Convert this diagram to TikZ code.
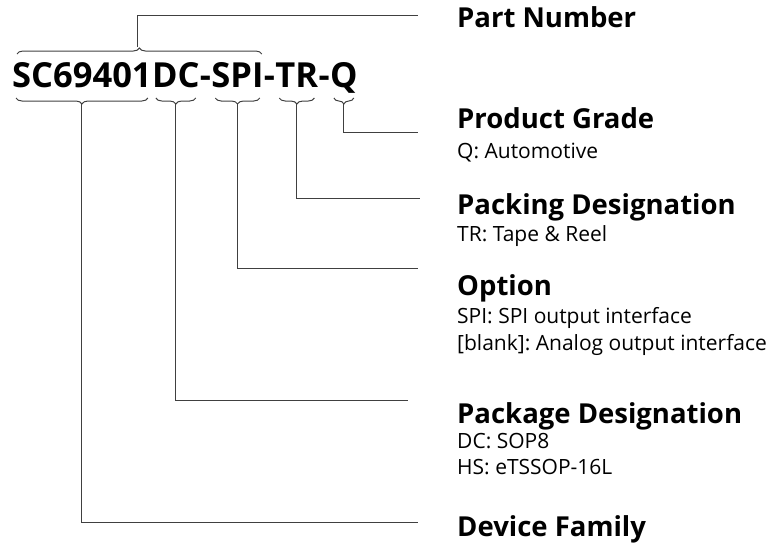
\documentclass[tikz,border=0pt]{standalone}
\usepackage{fontspec}
\setmainfont{Open Sans}
\usetikzlibrary{decorations.pathreplacing,calc}
\begin{document}
\frenchspacing
\begin{tikzpicture}[x=1pt,y=-1pt,
  seg/.style={anchor=base west,inner sep=0pt,font=\fontsize{34.5}{40}\selectfont\bfseries},
  head/.style={anchor=base west,inner sep=0pt,font=\fontsize{27.5}{32}\selectfont\bfseries},
  sub/.style={anchor=base west,inner sep=0pt,font=\fontsize{21}{25}\selectfont},
  conn/.style={draw=black!75,line width=1pt},
  bracetop/.style={draw=black!75,line width=1pt,decorate,decoration={brace,amplitude=6pt}},
  bracebot/.style={draw=black!75,line width=1pt,decorate,decoration={brace,amplitude=6pt,mirror}}]
\useasboundingbox (0,0) rectangle (773,544);
% part number segments
\node[seg] (s1) at (12,87) {SC69401};
\node[seg] (s2) at (s1.base east) {DC};
\node[seg] (d1) at (s2.base east) {-};
\node[seg] (s3) at (d1.base east) {SPI};
\node[seg] (d2) at (s3.base east) {-};
\node[seg] (s4) at (d2.base east) {TR};
\node[seg] (d3) at (s4.base east) {-};
\node[seg] (s5) at (d3.base east) {Q};
% top brace
\draw[bracetop] ($(s1.base west)+(5,-33)$) -- ($(s3.base east)+(-2,-33)$);
\coordinate (t0) at ($(s1.base west)!0.5!(s3.base east)+(0,-40)$);
% bottom braces
\foreach \s in {s1,s2,s3,s4,s5}{
  \draw[bracebot] ($(\s.base west)+(4,11)$) -- ($(\s.base east)+(-4,11)$);
  \coordinate (t\s) at ($(\s.base west)!0.5!(\s.base east)+(0,17)$);
}
% right side headings
\node[head] (h0) at (457,27) {Part Number};
\node[head] (h5) at (457,128) {Product Grade};
\node[sub]  (q5a) at (457,158) {Q: Automotive};
\node[head] (h4) at (457,214) {Packing Designation};
\node[sub]  (q4a) at (457,241) {TR: Tape \& Reel};
\node[head] (h3) at (457,295) {Option};
\node[sub]  (q3a) at (457,323) {SPI: SPI output interface};
\node[sub]  (q3b) at (457,350) {[blank]: Analog output interface};
\node[head] (h2) at (457,423) {Package Designation};
\node[sub]  (q2a) at (457,448) {DC: SOP8};
\node[sub]  (q2b) at (457,474) {HS: eTSSOP-16L};
\node[head] (h1) at (457,536) {Device Family};
% line ends
\coordinate (e0) at (418,15);
\coordinate (e5) at (418,132);
\coordinate (e4) at (420,198);
\coordinate (e3) at (418,268);
\coordinate (e2) at (408,400);
\coordinate (e1) at (418,522);
% connectors
\draw[conn] (t0) |- (e0);
\draw[conn] (ts5) |- (e5);
\draw[conn] (ts4) |- (e4);
\draw[conn] (ts3) |- (e3);
\draw[conn] (ts2) |- (e2);
\draw[conn] (ts1) |- (e1);
\end{tikzpicture}
\end{document}
